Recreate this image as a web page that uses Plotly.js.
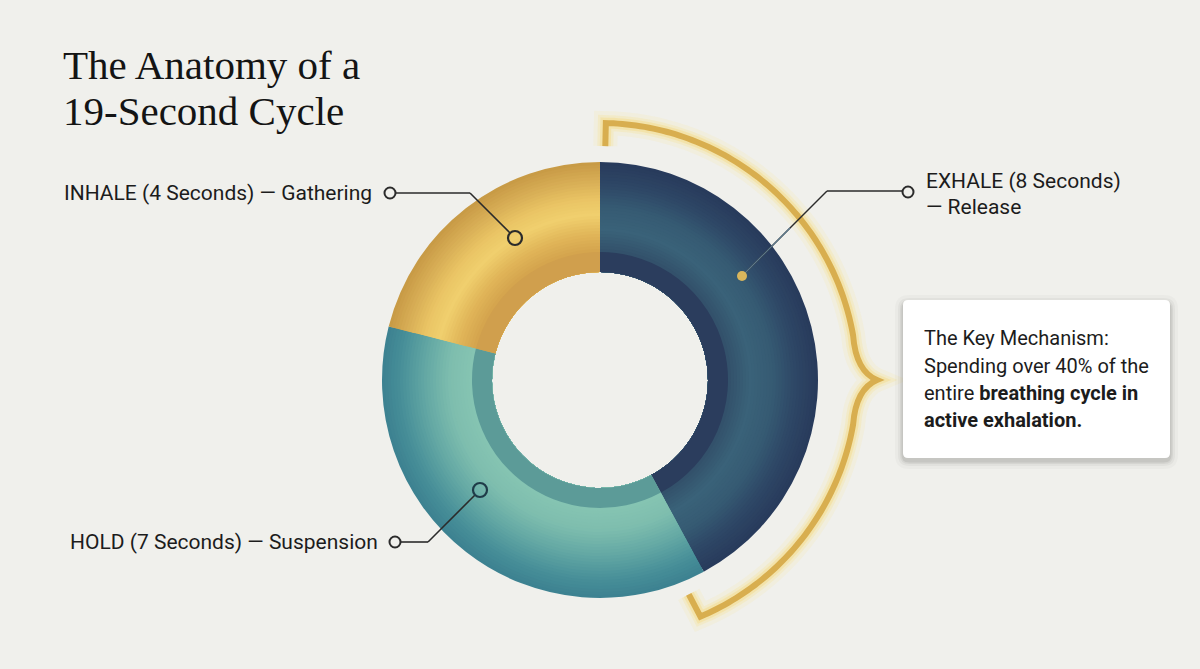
<!DOCTYPE html>
<html>
<head>
<meta charset="utf-8">
<script src="https://cdn.plot.ly/plotly-3.0.1.min.js"></script>
<style>
  html, body { margin: 0; padding: 0; background: #f0f0ec; }
  #chart { width: 1200px; height: 669px; }
</style>
</head>
<body>
<div id="chart"></div>
<script>
// ---- data ----
const phases = ['EXHALE', 'HOLD', 'INHALE'];
const seconds = [8, 7, 4];
const phaseNames = ['Release', 'Suspension', 'Gathering'];
const titleLines = ['The Anatomy of a', '19-Second Cycle'];
const keyLines = ['The Key Mechanism:', 'Spending over 40% of the', 'entire <b>breathing cycle in</b>', '<b>active exhalation.</b>'];

// ---- geometry helpers (pixels -> paper) ----
const W = 1200, H = 669;
const CX = 600, CY = 380, R_OUT = 218, R_HOLE = 108, R_RING = 128;
const px = x => x / W;
const py = y => 1 - y / H;

function hexToRgb(h) { h = h.replace('#', ''); return [0, 2, 4].map(i => parseInt(h.substr(i, 2), 16)); }
function rgbToHex(c) { return '#' + c.map(v => Math.round(v).toString(16).padStart(2, '0')).join(''); }
function colorAt(stops, r) {
  if (r <= stops[0][0]) return stops[0][1];
  for (let i = 1; i < stops.length; i++) {
    if (r <= stops[i][0]) {
      const t = (r - stops[i - 1][0]) / (stops[i][0] - stops[i - 1][0]);
      const a = hexToRgb(stops[i - 1][1]), b = hexToRgb(stops[i][1]);
      return rgbToHex(a.map((v, k) => v + (b[k] - v) * t));
    }
  }
  return stops[stops.length - 1][1];
}

// radial colour profiles per slice (style)
const profiles = [
  [[128, '#33506a'], [150, '#3a6279'], [172, '#365b73'], [195, '#2e4766'], [218, '#283a5b']],
  [[128, '#86c4b2'], [150, '#7ebdae'], [175, '#63a8a4'], [200, '#478e98'], [218, '#3c8190']],
  [[128, '#d4a34d'], [145, '#e0b558'], [165, '#f0cf6e'], [180, '#eac565'], [200, '#d7ad55'], [218, '#c79945']]
];
const ringColors = ['#2b3d5d', '#5c9b98', '#d09f4d'];

function pieTrace(R, colors) {
  return {
    type: 'pie',
    labels: phases,
    values: seconds,
    sort: false,
    direction: 'clockwise',
    rotation: 0,
    hole: R_HOLE / R,
    textinfo: 'none',
    hoverinfo: 'label+value',
    showlegend: false,
    marker: { colors: colors, line: { width: 0 } },
    domain: { x: [px(CX - R), px(CX + R)], y: [py(CY + R), py(CY - R)] }
  };
}

const data = [];
for (let R = R_OUT; R > R_RING; R -= 3) {
  const rm = R - 1.5;
  data.push(pieTrace(R, profiles.map(p => colorAt(p, rm))));
}
data.push(pieTrace(R_RING, ringColors));

// ---- decorations ----
const shapes = [];
const annotations = [];

function pt(deg, r) {
  const a = deg * Math.PI / 180;
  return [CX + r * Math.sin(a), CY - r * Math.cos(a)];
}
function P(p) { return px(p[0]).toFixed(5) + ',' + py(p[1]).toFixed(5); }

// brace path
const RB = 257;
let d = 'M' + P(pt(1.3, 234)) + ' L' + P(pt(1.3, RB));
for (let a = 2; a <= 80; a += 1) d += ' L' + P(pt(a, RB));
d += ' Q' + P(pt(88, RB - 1)) + ' ' + P(pt(90, RB + 20));
d += ' Q' + P(pt(92, RB - 1)) + ' ' + P(pt(100, RB));
for (let a = 101; a <= 156; a += 1) d += ' L' + P(pt(a, RB));
d += ' L' + P(pt(157, RB)) + ' L' + P(pt(157.5, 232));

[[24, 'rgba(252,222,100,0.10)'], [16, 'rgba(250,215,90,0.16)'], [11, 'rgba(248,210,85,0.26)']].forEach(g => {
  shapes.push({ type: 'path', xref: 'paper', yref: 'paper', path: d, line: { color: g[1], width: g[0] }, layer: 'below' });
});
shapes.push({ type: 'path', xref: 'paper', yref: 'paper', path: d, line: { color: '#d8ae4f', width: 6 } });

function line(x0, y0, x1, y1, color, w) {
  shapes.push({ type: 'line', xref: 'paper', yref: 'paper', x0: px(x0), y0: py(y0), x1: px(x1), y1: py(y1), line: { color: color, width: w } });
}
function circle(x, y, r, stroke, fill, w) {
  shapes.push({ type: 'circle', xref: 'paper', yref: 'paper', x0: px(x - r), x1: px(x + r), y0: py(y + r), y1: py(y - r),
    line: { color: stroke, width: w }, fillcolor: fill });
}

// leader: inhale
line(396, 193, 470, 193, '#2b2b2b', 1.6);
line(470, 193, 510, 233, '#2b2b2b', 1.6);
circle(390, 193, 5.5, '#2b2b2b', '#f0f0ec', 2);
circle(515, 238, 7, '#2b2b2b', 'rgba(0,0,0,0)', 2.2);
// leader: hold
line(401, 542, 428, 542, '#2b2b2b', 1.6);
line(428, 542, 475, 495, '#2b2b2b', 1.6);
circle(395, 542, 5.5, '#2b2b2b', '#f0f0ec', 2);
circle(480, 490, 7, '#1f3b48', 'rgba(0,0,0,0)', 2.2);
// leader: exhale
line(827, 191, 902, 191, '#2b2b2b', 1.6);
line(827, 191, 742, 276, '#2b2b2b', 1.4);
line(790, 228, 742, 276, '#5d7b90', 1.2);
circle(908, 192, 5.5, '#2b2b2b', '#f0f0ec', 2);
circle(742, 276, 5, 'rgba(0,0,0,0)', '#d9b65c', 0);

// key box with shadow
function roundRect(x0, y0, x1, y1, r) {
  return 'M' + P([x0 + r, y0]) + ' L' + P([x1 - r, y0]) + ' Q' + P([x1, y0]) + ' ' + P([x1, y0 + r]) +
    ' L' + P([x1, y1 - r]) + ' Q' + P([x1, y1]) + ' ' + P([x1 - r, y1]) +
    ' L' + P([x0 + r, y1]) + ' Q' + P([x0, y1]) + ' ' + P([x0, y1 - r]) +
    ' L' + P([x0, y0 + r]) + ' Q' + P([x0, y0]) + ' ' + P([x0 + r, y0]) + ' Z';
}
[[8, 0.025], [5, 0.035], [3, 0.05], [1.5, 0.07]].forEach(s => {
  shapes.push({ type: 'path', xref: 'paper', yref: 'paper', path: roundRect(903 - s[0], 300 - s[0] + 3, 1170 + s[0], 458 + s[0] + 3, 6 + s[0]),
    fillcolor: 'rgba(0,0,0,' + s[1] + ')', line: { width: 0 } });
});
shapes.push({ type: 'path', xref: 'paper', yref: 'paper', path: roundRect(903, 300, 1170, 458, 5), fillcolor: '#ffffff', line: { width: 0 } });

// ---- text ----
const labelFont = { family: 'Roboto, Arial, sans-serif', size: 21, color: '#1c1c1c' };
function txt(text, x, y, xanchor, font) {
  annotations.push({ text: text, xref: 'paper', yref: 'paper', x: px(x), y: py(y), xanchor: xanchor, yanchor: 'middle',
    showarrow: false, align: 'left', font: font });
}
const titleFont = { family: '"Liberation Serif", "DejaVu Serif", serif', size: 41, color: '#141414' };
txt(titleLines[0], 61, 65, 'left', titleFont);
txt(titleLines[1], 61, 111, 'left', titleFont);

txt(phases[2] + ' (' + seconds[2] + ' Seconds) — ' + phaseNames[2], 374, 193, 'right', labelFont);
txt(phases[1] + ' (' + seconds[1] + ' Seconds) — ' + phaseNames[1], 380, 542, 'right', labelFont);
txt(phases[0] + ' (' + seconds[0] + ' Seconds)', 924, 181, 'left', labelFont);
txt('— ' + phaseNames[0], 924, 207, 'left', labelFont);

const keyFont = { family: 'Roboto, Arial, sans-serif', size: 20, color: '#1c1c1c' };
const keyY = [338, 366, 393, 420];
keyLines.forEach((t, i) => txt(t, 922, keyY[i], 'left', keyFont));

const layout = {
  width: W, height: H,
  margin: { l: 0, r: 0, t: 0, b: 0 },
  paper_bgcolor: '#f0f0ec',
  plot_bgcolor: '#f0f0ec',
  showlegend: false,
  shapes: shapes,
  annotations: annotations
};

Plotly.newPlot('chart', data, layout, { displayModeBar: false, staticPlot: true });
</script>
</body>
</html>
